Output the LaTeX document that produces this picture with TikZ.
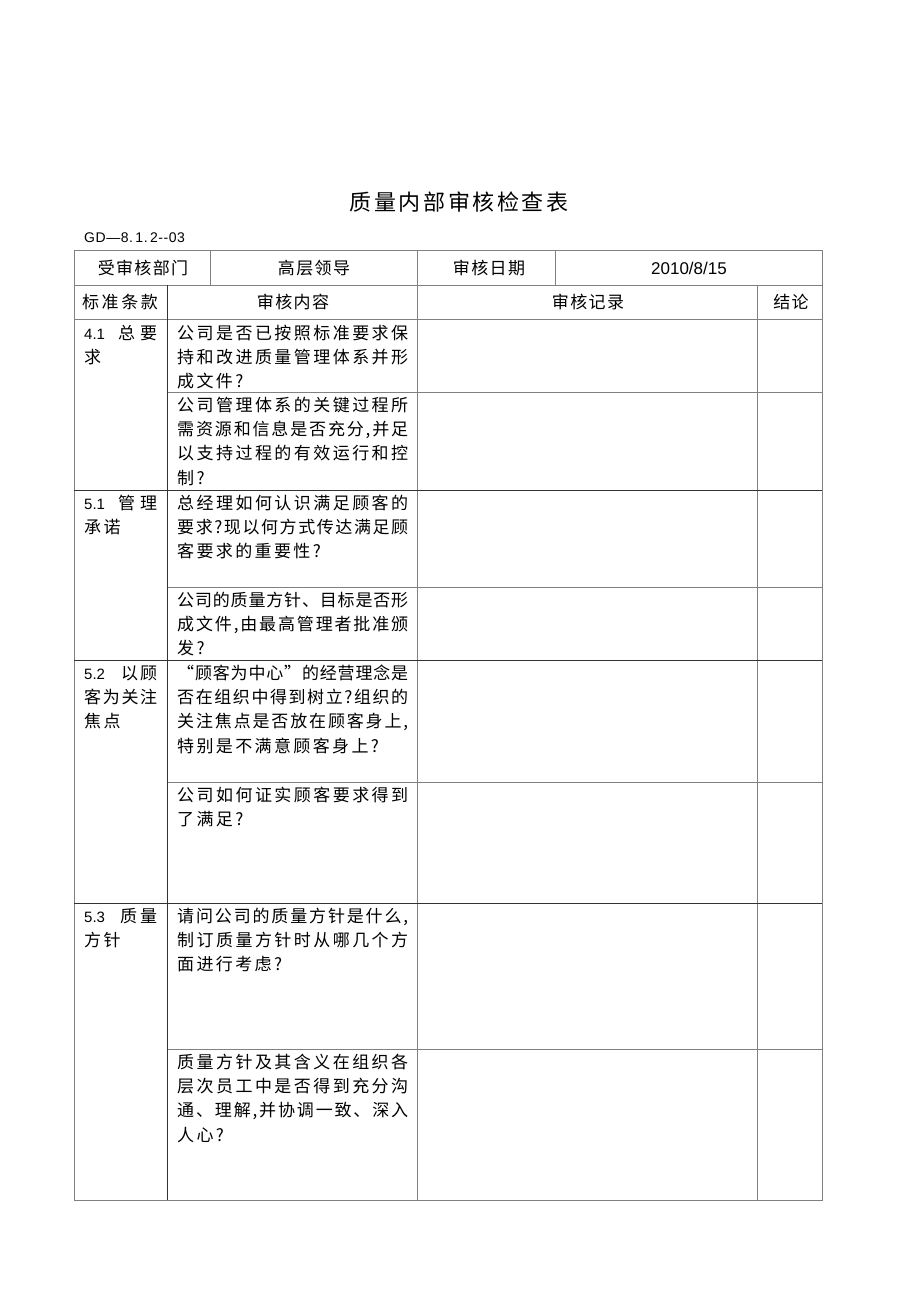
\documentclass[tikz,border=0pt]{standalone}
\usepackage{fontspec}
\newfontfamily\cjk[LetterSpace=14]{Noto Sans CJK SC}
\newfontfamily\cjkp{Noto Sans CJK SC}
\newfontfamily\cjkh[LetterSpace=8]{Noto Sans CJK SC}
\newfontfamily\cjktitle[LetterSpace=12]{Noto Sans CJK SC}
\newfontfamily\lat{Liberation Sans}
\newfontfamily\latn[LetterSpace=4]{Liberation Sans}
\makeatletter
\def\jsp@end{\jsp@end}
\def\jsp@loop#1{\ifx#1\jsp@end\else\hfill#1\expandafter\jsp@loop\fi}
\def\jsp@first#1{#1\jsp@loop}
\newcommand\spreadbox[2]{\makebox[#1][s]{\cjkp\jsp@first#2\jsp@end}}
\newcommand\jline[1]{\spreadbox{231pt}{#1}}
\newcommand\secnum[1]{{\lat\fontsize{15}{16}\selectfont #1}}
\makeatother
\begin{document}
\begin{tikzpicture}[x=1pt,y=-1pt,
  grid/.style={draw=black!50,line width=1pt},
  darkgrid/.style={draw=black!80,line width=0.9pt},
  cellfont/.style={font=\cjk\fontsize{17}{24.3}\selectfont},
  celltext/.style={cellfont,anchor=north west,inner sep=0pt,align=left},
  headtext/.style={font=\cjkh\fontsize{17}{20}\selectfont,anchor=center,inner sep=0pt}]
\useasboundingbox (0,0) rectangle (920,1302);
\fill[white] (0,0) rectangle (920,1302);

% title and code
\node[anchor=center,inner sep=0pt,font=\cjktitle\fontsize{22}{26}\selectfont] (title) at (459,202) {质量内部审核检查表};
\node[anchor=west,inner sep=0pt,font=\latn\fontsize{14}{16}\selectfont] (code) at (84,238) {GD—8.\,1.\,2-{}-03};

% table lines
\draw[grid] (74,250) rectangle (822,1200);
\draw[grid] (74,285) -- (822,285);
\draw[grid] (74,319) -- (822,319);
\draw[grid] (167,392) -- (822,392);
\draw[grid] (167,587) -- (822,587);
\draw[grid] (167,782) -- (822,782);
\draw[grid] (167,1049) -- (822,1049);
\draw[grid] (210,250) -- (210,285);
\draw[grid] (555,250) -- (555,285);
\draw[grid] (417,250) -- (417,1200);
\draw[grid] (757,285) -- (757,1200);
\draw[darkgrid] (74,490) -- (822,490);
\draw[darkgrid] (74,660) -- (822,660);
\draw[darkgrid] (74,903) -- (822,903);
\draw[darkgrid] (167,285) -- (167,1200);

% header row 1
\node[headtext] (h1) at (143,268) {受审核部门};
\node[headtext] (h2) at (314,268) {高层领导};
\node[headtext] (h3) at (489,268) {审核日期};
\node[anchor=center,inner sep=0pt,font=\lat\fontsize{17}{20}\selectfont] (h4) at (689,268) {2010/8/15};

% header row 2
\node[headtext,font=\cjkp\fontsize{17}{20}\selectfont] (k1) at (120,302) {\spreadbox{76pt}{标准条款}};
\node[headtext] (k2) at (293,302) {审核内容};
\node[headtext] (k3) at (588,302) {审核记录};
\node[headtext] (k4) at (791,302) {结论};

% 4.1
\node[celltext] (s41) at (84,323) {\rule{0pt}{16pt}\makebox[73pt][s]{\secnum{4.1}\hfill\cjkp 总\hspace{5pt}要}\\求};
\node[celltext] (q41a) at (177,323) {\rule{0pt}{16pt}\jline{公司是否已按照标准要求保}\\\jline{持和改进质量管理体系并形}\\成文件?};
\node[celltext] (q41b) at (177,395) {\rule{0pt}{16pt}\jline{公司管理体系的关键过程所}\\\jline{需资源和信息是否充分,并足}\\\jline{以支持过程的有效运行和控}\\制?};

% 5.1
\node[celltext] (s51) at (84,493) {\rule{0pt}{16pt}\makebox[73pt][s]{\secnum{5.1}\hfill\cjkp 管\hspace{5pt}理}\\承诺};
\node[celltext] (q51a) at (177,493) {\rule{0pt}{16pt}\jline{总经理如何认识满足顾客的}\\\jline{要求?现以何方式传达满足顾}\\客要求的重要性?};
\node[celltext] (q51b) at (177,590) {\rule{0pt}{16pt}\jline{公司的质量方针、目标是否形}\\\jline{成文件,由最高管理者批准颁}\\发?};

% 5.2
\node[celltext] (s52) at (84,663) {\rule{0pt}{16pt}\makebox[73pt][s]{\secnum{5.2}\hfill\cjkp 以\hspace{2pt}顾}\\\spreadbox{73pt}{客为关注}\\焦点};
\node[celltext] (q52a) at (177,663) {\rule{0pt}{16pt}\jline{“顾客为中心”的经营理念是}\\\jline{否在组织中得到树立?组织的}\\\jline{关注焦点是否放在顾客身上,}\\特别是不满意顾客身上?};
\node[celltext] (q52b) at (177,785) {\rule{0pt}{16pt}\jline{公司如何证实顾客要求得到}\\了满足?};

% 5.3
\node[celltext] (s53) at (84,906) {\rule{0pt}{16pt}\makebox[73pt][s]{\secnum{5.3}\hfill\cjkp 质\hspace{3pt}量}\\方针};
\node[celltext] (q53a) at (177,906) {\rule{0pt}{16pt}\jline{请问公司的质量方针是什么,}\\\jline{制订质量方针时从哪几个方}\\面进行考虑?};
\node[celltext] (q53b) at (177,1052) {\rule{0pt}{16pt}\jline{质量方针及其含义在组织各}\\\jline{层次员工中是否得到充分沟}\\\jline{通、理解,并协调一致、深入}\\人心?};
\end{tikzpicture}
\end{document}
